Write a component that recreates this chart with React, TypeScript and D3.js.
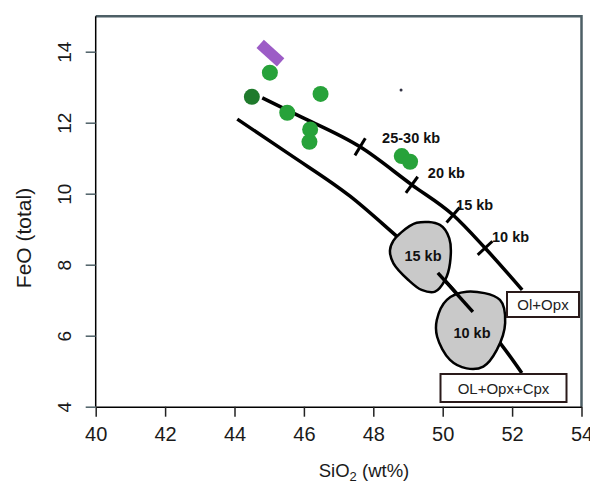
// FeO vs SiO2 with Ol+Opx / OL+Opx+Cpx cotectics
import React, { useRef, useEffect } from "react";
import * as d3 from "d3";

const W = 590;
const H = 485;

const xTicks = [40, 42, 44, 46, 48, 50, 52, 54];
const yTicks = [4, 6, 8, 10, 12, 14];

// Ol+Opx cotectic (upper curve)
const olOpxSiO2 = [44.8, 45.8, 47.62, 49.11, 50.3, 51.22, 52.29];
const olOpxFeO = [12.7, 12.22, 11.32, 10.25, 9.4, 8.47, 7.29];

// OL+Opx+Cpx cotectic (lower curve)
const cpxSiO2 = [44.08, 45.6, 47.33, 48.63, 49.86, 50.87, 51.65, 52.28];
const cpxFeO = [12.1, 11.1, 9.93, 8.84, 7.77, 6.67, 5.8, 4.95];

// pressure marks on Ol+Opx curve
const pressLabels = ["25-30 kb", "20 kb", "15 kb", "10 kb"];
const pressSiO2 = [47.62, 49.11, 50.3, 51.22];
const pressFeO = [11.32, 10.25, 9.4, 8.47];

// sample points
const sampleSiO2 = [45.02, 44.5, 46.48, 45.52, 46.18, 46.16, 48.82, 49.06];
const sampleFeO = [13.41, 12.73, 12.81, 12.28, 11.81, 11.46, 11.06, 10.9];
const sampleDark = [false, true, false, false, false, false, false, false];

// purple sample (elongated)
const purpleSiO2 = [44.74, 45.33];
const purpleFeO = [14.22, 13.7];

// 15 kb and 10 kb experimental fields
const blob15SiO2 = [48.77, 49.25, 49.92, 50.19, 50.21, 50.07, 49.78, 49.39, 49.01, 48.58, 48.48, 48.58];
const blob15FeO = [8.88, 9.18, 9.12, 8.74, 8.04, 7.57, 7.24, 7.29, 7.57, 8.04, 8.4, 8.68];
const blob10SiO2 = [50.69, 51.65, 51.8, 51.56, 51.17, 50.69, 50.21, 49.84, 49.83, 50.12];
const blob10FeO = [7.24, 7.01, 6.36, 5.6, 5.13, 5.08, 5.32, 5.97, 6.44, 7.01];

const zip = (a: number[], b: number[]) => a.map((v, i) => [v, b[i]] as [number, number]);

export default function App() {
  const svgRef = useRef<SVGSVGElement>(null);

  useEffect(() => {
    const svg = d3.select(svgRef.current);
    svg.selectAll("*").remove();

    const x = d3.scaleLinear().domain([40, 54]).range([95.7, 581.5]);
    const y = d3.scaleLinear().domain([4, 15]).range([406.7, 16.2]);
    const font = "Liberation Sans, Arial, sans-serif";

    // frame (top + right)
    svg.append("path")
      .attr("d", `M${x(40)},${y(15)}H${x(54)}V${y(4)}`)
      .attr("fill", "none")
      .attr("stroke", "#4d5f66")
      .attr("stroke-width", 2.5);

    // axes
    const xAxis = d3.axisBottom(x).tickValues(xTicks).tickSize(10).tickSizeOuter(0);
    const gx = svg.append("g").attr("transform", `translate(0,${y(4)})`).call(xAxis);
    gx.select(".domain").attr("stroke", "#000").attr("stroke-width", 1.5);
    gx.selectAll(".tick line").attr("stroke", "#222").attr("stroke-width", 1.5);
    gx.selectAll(".tick text")
      .attr("y", 20)
      .attr("font-family", font)
      .attr("font-size", 20)
      .attr("fill", "#1a1a1a");

    const yAxis = d3.axisLeft(y).tickValues(yTicks).tickSize(10).tickSizeOuter(0);
    const gy = svg.append("g").attr("transform", `translate(${x(40)},0)`).call(yAxis);
    gy.select(".domain").attr("stroke", "#000").attr("stroke-width", 1.5)
      .attr("d", `M0,${y(4)}V${y(15)}`);
    gy.selectAll(".tick line").attr("stroke", "#4d5f66").attr("stroke-width", 1.5);
    gy.selectAll(".tick text")
      .attr("transform", "rotate(-90)")
      .attr("x", 0)
      .attr("y", -31)
      .attr("dy", "0.35em")
      .attr("text-anchor", "middle")
      .attr("font-family", font)
      .attr("font-size", 19)
      .attr("fill", "#1a1a1a");

    // axis titles
    const xt = svg.append("text")
      .attr("x", 364).attr("y", 477)
      .attr("text-anchor", "middle")
      .attr("font-family", font)
      .attr("font-size", 18.5)
      .attr("fill", "#1a1a1a");
    xt.append("tspan").text("SiO");
    xt.append("tspan").attr("font-size", 13).attr("dy", 4).text("2");
    xt.append("tspan").attr("dy", -4).text(" (wt%)");

    svg.append("text")
      .attr("transform", "translate(24,238) rotate(-90)")
      .attr("text-anchor", "middle")
      .attr("dy", "0.35em")
      .attr("font-family", font)
      .attr("font-size", 21)
      .attr("fill", "#1a1a1a")
      .text("FeO (total)");

    const line = d3.line<[number, number]>()
      .x(d => x(d[0]))
      .y(d => y(d[1]))
      .curve(d3.curveMonotoneX);

    // cotectic curves
    svg.append("path")
      .attr("d", line(zip(olOpxSiO2, olOpxFeO)))
      .attr("fill", "none").attr("stroke", "#000").attr("stroke-width", 3.5);
    svg.append("path")
      .attr("d", line(zip(cpxSiO2, cpxFeO)))
      .attr("fill", "none").attr("stroke", "#000").attr("stroke-width", 3.5);

    // pressure cross ticks
    const upperPts = zip(olOpxSiO2, olOpxFeO).map(d => [x(d[0]), y(d[1])]);
    pressSiO2.forEach((sx, i) => {
      const px = x(sx), py = y(pressFeO[i]);
      const j = olOpxSiO2.indexOf(sx);
      const a = upperPts[Math.max(j - 1, 0)], b = upperPts[Math.min(j + 1, upperPts.length - 1)];
      const dx = b[0] - a[0], dy = b[1] - a[1];
      const len = Math.hypot(dx, dy);
      const nx = -dy / len, ny = dx / len;
      svg.append("line")
        .attr("x1", px - nx * 10).attr("y1", py - ny * 10)
        .attr("x2", px + nx * 10).attr("y2", py + ny * 10)
        .attr("stroke", "#000").attr("stroke-width", 3);
    });

    // experimental fields
    const closed = d3.line<[number, number]>()
      .x(d => x(d[0]))
      .y(d => y(d[1]))
      .curve(d3.curveCatmullRomClosed);
    [zip(blob15SiO2, blob15FeO), zip(blob10SiO2, blob10FeO)].forEach(pts => {
      svg.append("path")
        .attr("d", closed(pts))
        .attr("fill", "#c9c9c9")
        .attr("stroke", "#000")
        .attr("stroke-width", 2.5);
    });

    // lower curve piece drawn across the fields
    svg.append("line")
      .attr("x1", x(cpxSiO2[4])).attr("y1", y(cpxFeO[4]))
      .attr("x2", x(cpxSiO2[5])).attr("y2", y(cpxFeO[5]))
      .attr("stroke", "#000").attr("stroke-width", 3.5);

    svg.append("text").attr("x", 423).attr("y", 261).attr("text-anchor", "middle")
      .attr("font-family", font).attr("font-weight", "bold").attr("font-size", 14.5)
      .attr("fill", "#111").text("15 kb");
    svg.append("text").attr("x", 472).attr("y", 338).attr("text-anchor", "middle")
      .attr("font-family", font).attr("font-weight", "bold").attr("font-size", 14.5)
      .attr("fill", "#111").text("10 kb");

    // pressure labels
    const offs = [[22, -4], [16, -7], [3, -5], [7, -6]];
    pressLabels.forEach((t, i) => {
      svg.append("text")
        .attr("x", x(pressSiO2[i]) + offs[i][0])
        .attr("y", y(pressFeO[i]) + offs[i][1])
        .attr("font-family", font).attr("font-weight", "bold").attr("font-size", 14.5)
        .attr("fill", "#111").text(t);
    });

    // assemblage boxes
    const box = (cx: number, cy: number, w: number, h: number, t: string) => {
      svg.append("rect")
        .attr("x", cx - w / 2).attr("y", cy - h / 2).attr("width", w).attr("height", h)
        .attr("fill", "#fff").attr("stroke", "#2a1a1a").attr("stroke-width", 2);
      svg.append("text").attr("x", cx).attr("y", cy + 5.5).attr("text-anchor", "middle")
        .attr("font-family", font).attr("font-size", 15).attr("fill", "#222").text(t);
    };
    box(543, 304.5, 72, 25, "Ol+Opx");
    box(503.5, 388, 126, 28, "OL+Opx+Cpx");

    // samples
    svg.selectAll(".dot")
      .data(zip(sampleSiO2, sampleFeO))
      .join("circle")
      .attr("class", "dot")
      .attr("cx", d => x(d[0]))
      .attr("cy", d => y(d[1]))
      .attr("r", 8)
      .attr("fill", (d, i) => (sampleDark[i] ? "#1f7a2c" : "#27a23a"));

    svg.append("line")
      .attr("x1", x(purpleSiO2[0])).attr("y1", y(purpleFeO[0]))
      .attr("x2", x(purpleSiO2[1])).attr("y2", y(purpleFeO[1]))
      .attr("stroke", "#9c5cc6").attr("stroke-width", 11);

    svg.append("circle")
      .attr("cx", x(48.8)).attr("cy", y(12.92)).attr("r", 1.5)
      .attr("fill", "#334");
  }, []);

  return (
    <div style={{ position: "absolute", left: 0, top: 0 }}>
      <svg ref={svgRef} width={W} height={H} style={{ display: "block", background: "#fff" }} />
    </div>
  );
}
